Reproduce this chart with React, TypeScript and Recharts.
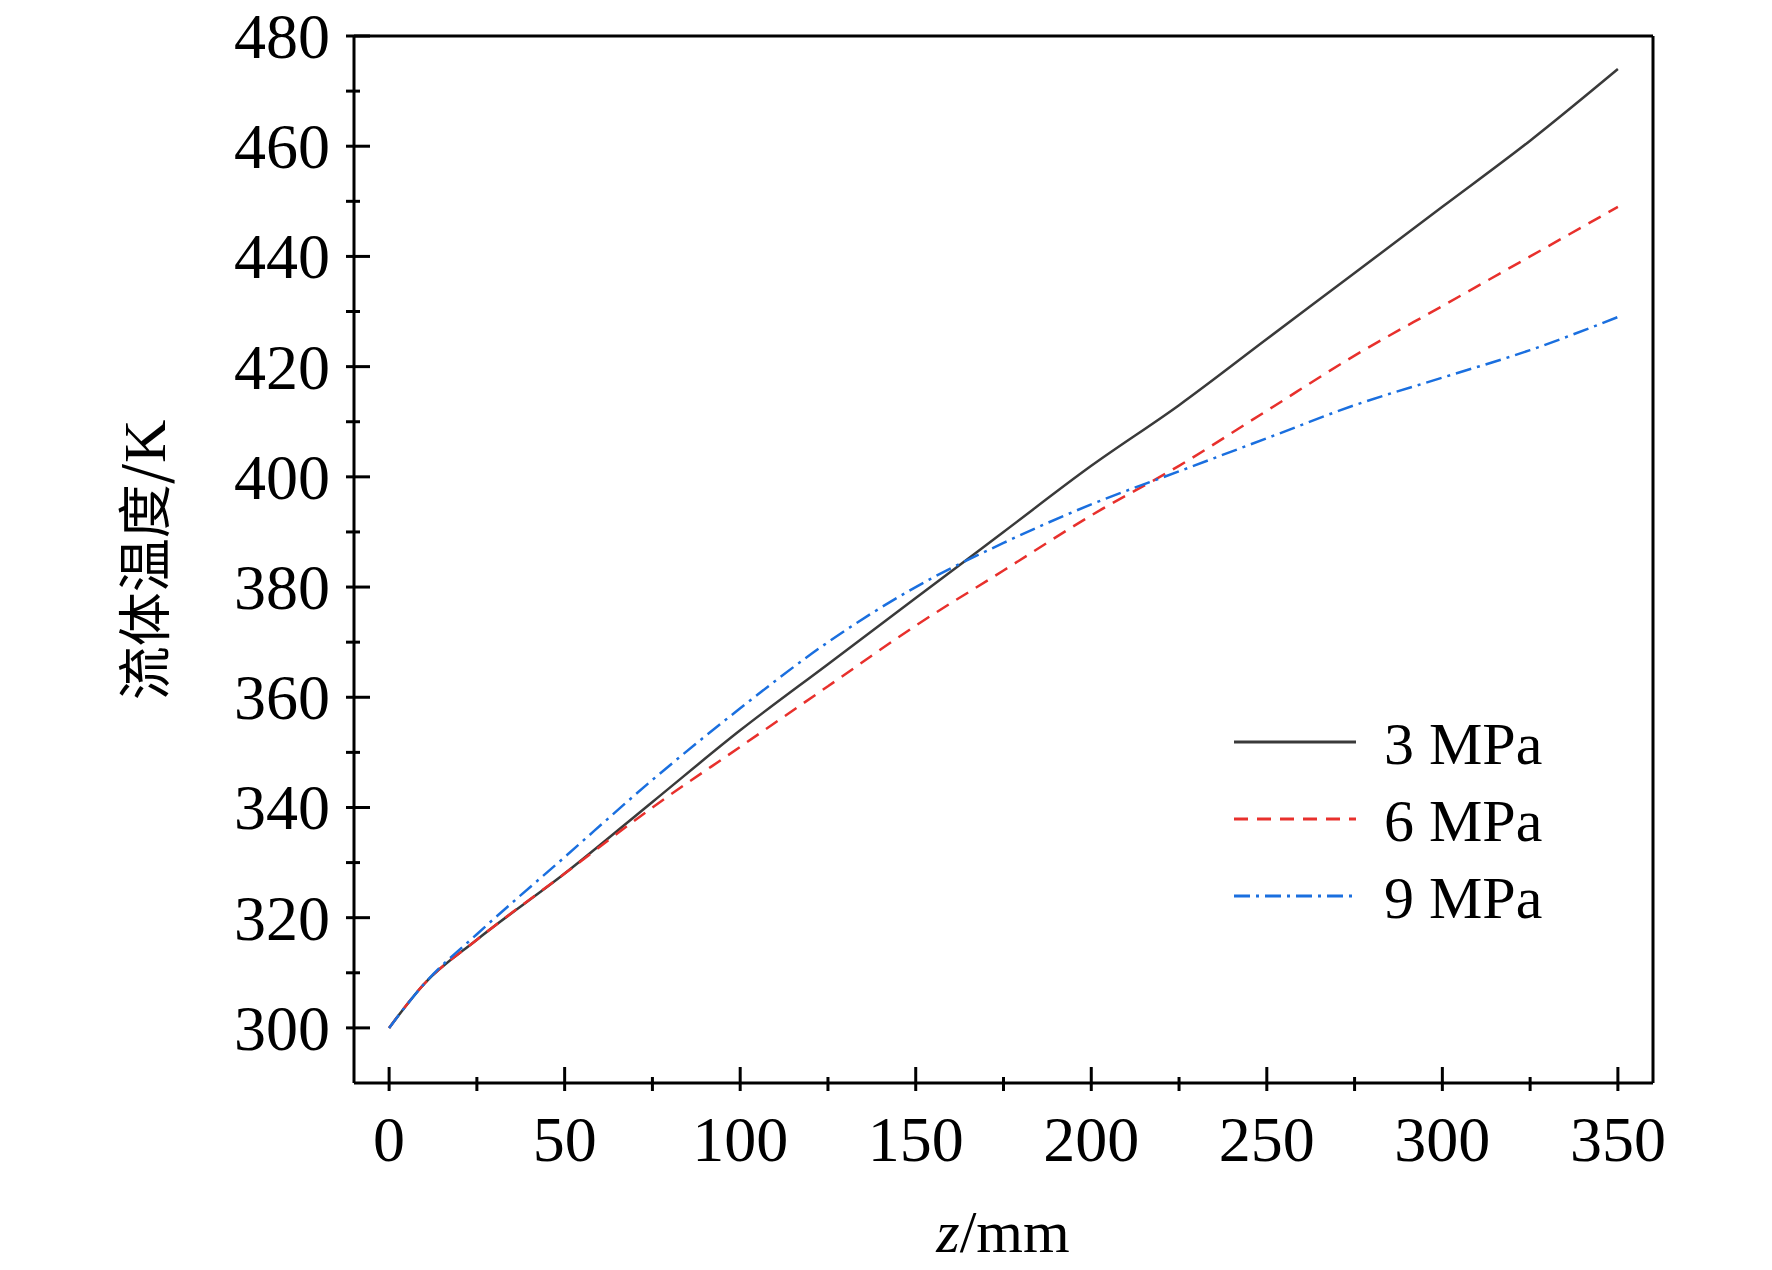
import { LineChart, Line, XAxis, YAxis, ReferenceLine } from "recharts";

const Z = [0, 10, 25, 50, 75, 100, 125, 150, 175, 200, 225, 250, 275, 300, 325, 350];
const T3 = [300, 308, 316, 328, 341, 354, 366, 378, 390, 402, 413, 425, 437, 449, 461, 474];
const T6 = [300, 308, 316, 328, 340, 351, 362, 373, 383, 393, 402, 412, 422, 431, 440, 449];
const T9 = [300, 308, 317, 331, 345, 358, 370, 380, 388, 395, 401, 407, 413, 418, 423, 429];
const X_TICKS = [0, 25, 50, 75, 100, 125, 150, 175, 200, 225, 250, 275, 300, 325, 350];
const Y_TICKS = [300, 310, 320, 330, 340, 350, 360, 370, 380, 390, 400, 410, 420, 430, 440, 450, 460, 470, 480];

const SERIES = [
  { key: "t3", name: "3 MPa", color: "#3a3a3a", dash: undefined },
  { key: "t6", name: "6 MPa", color: "#e8302c", dash: "14 9" },
  { key: "t9", name: "9 MPa", color: "#1a6fdf", dash: "16 6 3 6" },
];

const data = Z.map((z, i) => ({ z, t3: T3[i], t6: T6[i], t9: T9[i] }));
const FONT = "'Liberation Serif', 'Times New Roman', serif";

function XTick({ x, y, payload }: any) {
  const major = payload.value % 50 === 0;
  return (
    <g>
      <line x1={x} x2={x} y1={y} y2={y - (major ? 24 : 14)} stroke="#000" strokeWidth={3} />
      {major && (
        <text x={x} y={y + 70} textAnchor="middle" fontSize={64} fontFamily={FONT} fill="#000">
          {payload.value}
        </text>
      )}
    </g>
  );
}

function YTick({ x, y, payload }: any) {
  const major = payload.value % 20 === 0;
  return (
    <g>
      <line x1={x} x2={x + (major ? 24 : 14)} y1={y} y2={y} stroke="#000" strokeWidth={3} />
      {major && (
        <text x={x - 16} y={y + 22} textAnchor="end" fontSize={64} fontFamily={FONT} fill="#000">
          {payload.value}
        </text>
      )}
    </g>
  );
}

export default function App() {
  return (
    <div style={{ position: "absolute", left: 0, top: 0, width: 1772, height: 1270, background: "#fff" }}>
      <LineChart width={1772} height={1270} data={data} margin={{ top: 36, right: 119, left: 204, bottom: 67 }}>
        <XAxis dataKey="z" type="number" domain={[-10, 360]} ticks={X_TICKS} interval={0}
          tick={<XTick />} tickLine={false} axisLine={{ stroke: "#000", strokeWidth: 3 }} height={120} />
        <YAxis type="number" domain={[290, 480]} ticks={Y_TICKS} interval={0}
          tick={<YTick />} tickLine={false} axisLine={{ stroke: "#000", strokeWidth: 3 }} width={150} />
        <ReferenceLine y={480} stroke="#000" strokeWidth={3} />
        <ReferenceLine x={360} stroke="#000" strokeWidth={3} />
        {SERIES.map(s => (
          <Line key={s.key} dataKey={s.key} name={s.name} stroke={s.color} strokeWidth={2.5}
            strokeDasharray={s.dash} dot={false} type="monotone" isAnimationActive={false} />
        ))}
      </LineChart>
      <svg width={420} height={240} style={{ position: "absolute", left: 1234, top: 700 }}>
        {SERIES.map((s, i) => (
          <g key={s.key} transform={`translate(0, ${42 + i * 77})`}>
            <line x1={0} x2={122} y1={0} y2={0} stroke={s.color} strokeWidth={3} strokeDasharray={s.dash} />
            <text x={150} y={22} fontSize={60} fontFamily={FONT} fill="#000">{s.name}</text>
          </g>
        ))}
      </svg>
      <div style={{ position: "absolute", left: 141, top: 560, transform: "translate(-50%, -50%) rotate(-90deg)",
        fontSize: 54, fontFamily: "'Noto Sans CJK SC', serif", whiteSpace: "nowrap", color: "#000" }}>
        流体温度/<span style={{ fontFamily: FONT, fontSize: 60 }}>K</span>
      </div>
      <div style={{ position: "absolute", left: 1003, top: 1232, transform: "translate(-50%, -50%)",
        fontSize: 60, fontFamily: FONT, whiteSpace: "nowrap", color: "#000" }}>
        <i>z</i>/mm
      </div>
    </div>
  );
}
